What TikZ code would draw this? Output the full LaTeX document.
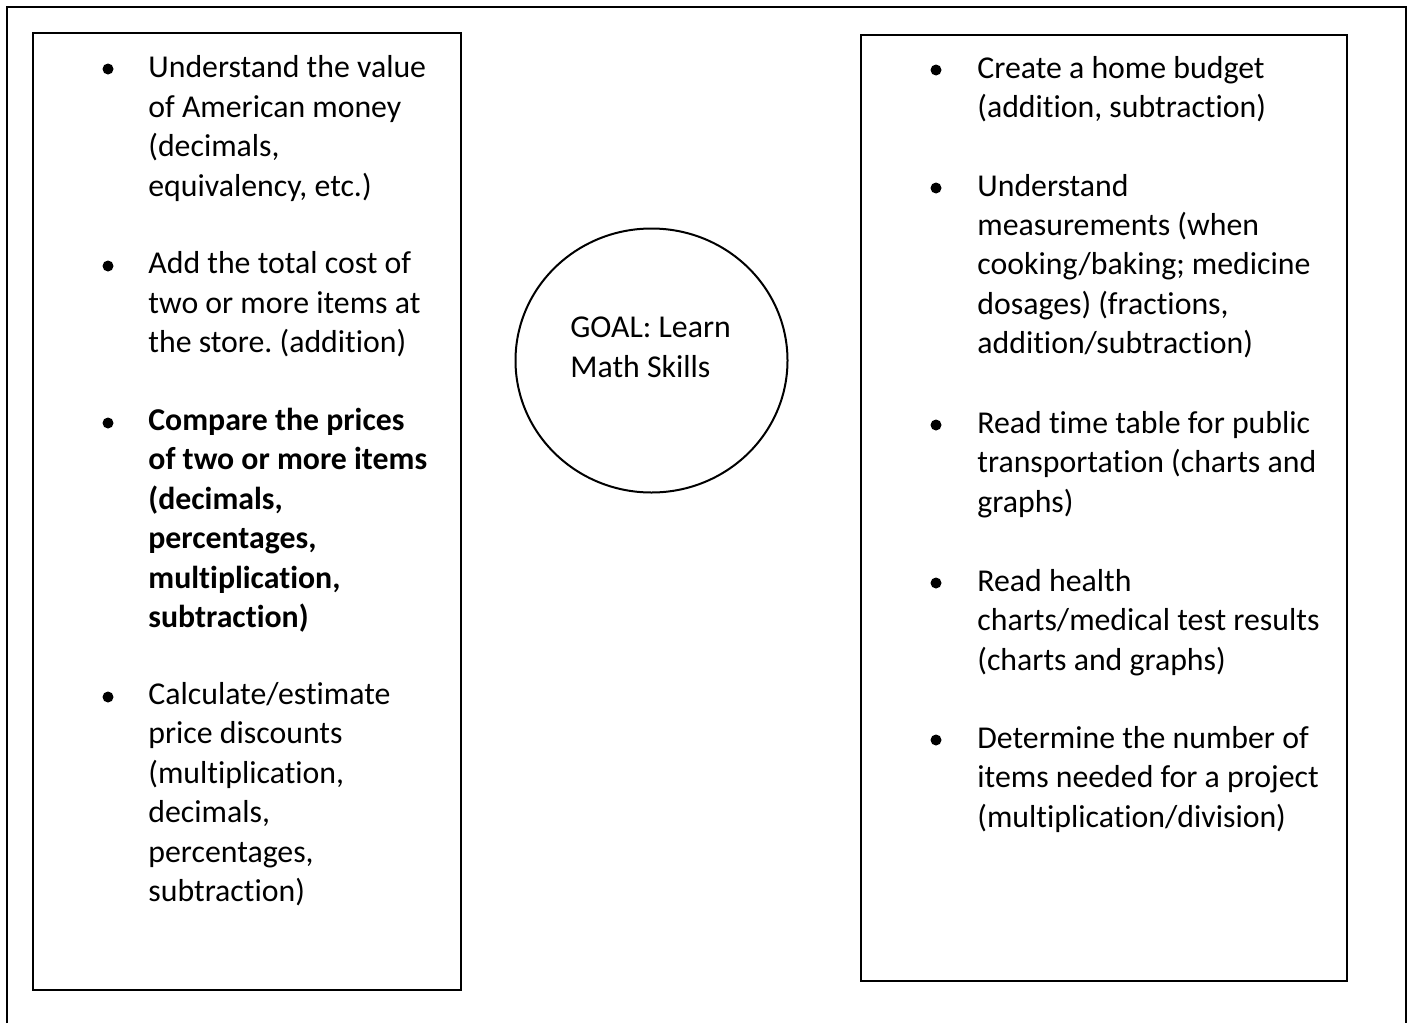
\documentclass[tikz,border=0pt]{standalone}
\usepackage{fontspec}
\setmainfont{Carlito}[Ligatures=NoCommon]
\usetikzlibrary{shapes.geometric}
\frenchspacing

\begin{document}
\begin{tikzpicture}[x=0.5pt,y=-0.5pt,
	item/.style={anchor=base west,align=left,inner sep=0pt,font=\fontsize{15.9}{19.7}\selectfont},
	dot/.style={circle,fill=black,inner sep=0pt,minimum size=5.5pt},
	box/.style={draw,line width=0.65pt}]
		\useasboundingbox (0,0) rectangle (1413,1023);
		% outer frame, open at the bottom
		\draw[line width=1pt] (7,1023) -- (7,7) -- (1406,7) -- (1406,1023);
		\draw[box] (33,33) rectangle (461,990);
		\draw[box] (861,35) rectangle (1347,981);
		% left list (nodes sit on the baseline of their last line)
		\path (108,69) node(ld1)[dot] {}
		(148,196) node(l1)[item] {Understand the value\\of American money\\(decimals,\\equivalency, etc.)}
		(108,266) node(ld2)[dot] {}
		(148,352.6) node(l2)[item] {Add the total cost of\\two or more items at\\the store. (addition)}
		(108,423) node(ld3)[dot] {}
		(148,627.5) node(l3)[item,font=\fontsize{15.9}{19.7}\selectfont\bfseries] {Compare the prices\\of two or more items\\(decimals,\\percentages,\\multiplication,\\subtraction)}
		(108,697) node(ld4)[dot] {}
		(148,901.5) node(l4)[item] {Calculate/estimate\\price discounts\\(multiplication,\\decimals,\\percentages,\\subtraction)};
		% goal
		\node(goal)[ellipse,draw,line width=1pt,minimum width=136pt,minimum height=132pt] at (651.5,360.5) {};
		\node(goaltxt)[item] at (570,377) {GOAL: Learn\\Math Skills};
		% right list
		\path (936,70) node(rd1)[dot] {}
		(977,117.8) node(r1)[item] {Create a home budget\\(addition, subtraction)}
		(936,188) node(rd2)[dot] {}
		(977,353.7) node(r2)[item] {Understand\\measurements (when\\cooking/baking; medicine\\dosages) (fractions,\\addition/subtraction)}
		(936,425) node(rd3)[dot] {}
		(977,512.1) node(r3)[item] {Read time table for public\\transportation (charts and\\graphs)}
		(936,583) node(rd4)[dot] {}
		(977,670.1) node(r4)[item] {Read health\\charts/medical test results\\(charts and graphs)}
		(936,740) node(rd5)[dot] {}
		(977,827.1) node(r5)[item] {Determine the number of\\items needed for a project\\(multiplication/division)};
	\end{tikzpicture}
\end{document}
